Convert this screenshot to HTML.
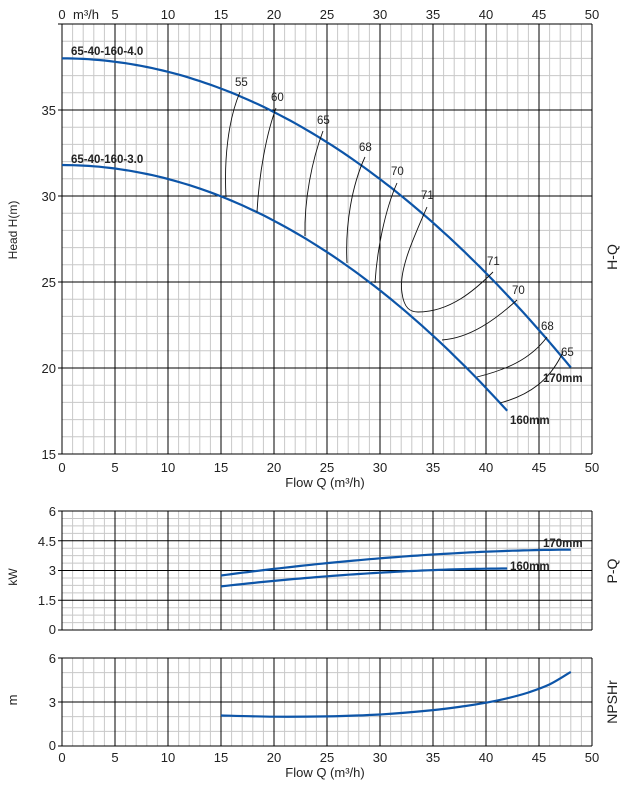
<!DOCTYPE html><html><head><meta charset="utf-8"><style>
body{margin:0;background:#fff}
svg{display:block;font-family:"Liberation Sans",sans-serif}
text{fill:#222;font-size:13px}
.b{font-weight:bold;font-size:11.5px}
</style></head><body>
<svg id="s" width="630" height="788" viewBox="0 0 630 788" xmlns="http://www.w3.org/2000/svg">
<g id="grid"></g>
<g id="curves" fill="none"></g>
<g text-anchor="middle">
<text x="62" y="19">0</text><text x="86" y="19">m³/h</text><text x="115" y="19">5</text><text x="168" y="19">10</text><text x="221" y="19">15</text><text x="274" y="19">20</text><text x="327" y="19">25</text><text x="380" y="19">30</text><text x="433" y="19">35</text><text x="486" y="19">40</text><text x="539" y="19">45</text><text x="592" y="19">50</text>
<text x="62" y="472">0</text><text x="115" y="472">5</text><text x="168" y="472">10</text><text x="221" y="472">15</text><text x="274" y="472">20</text><text x="327" y="472">25</text><text x="380" y="472">30</text><text x="433" y="472">35</text><text x="486" y="472">40</text><text x="539" y="472">45</text><text x="592" y="472">50</text>
<text x="325" y="487">Flow Q (m³/h)</text>
<text x="62" y="762">0</text><text x="115" y="762">5</text><text x="168" y="762">10</text><text x="221" y="762">15</text><text x="274" y="762">20</text><text x="327" y="762">25</text><text x="380" y="762">30</text><text x="433" y="762">35</text><text x="486" y="762">40</text><text x="539" y="762">45</text><text x="592" y="762">50</text>
<text x="325" y="777">Flow Q (m³/h)</text>
</g>
<g text-anchor="end">
<text x="56" y="115">35</text><text x="56" y="201">30</text><text x="56" y="287">25</text><text x="56" y="373">20</text><text x="56" y="459">15</text>
<text x="56" y="516">6</text><text x="56" y="546">4.5</text><text x="56" y="575">3</text><text x="56" y="605">1.5</text><text x="56" y="634">0</text>
<text x="56" y="663">6</text><text x="56" y="707">3</text><text x="56" y="750">0</text>
</g>
<text class="b" x="71" y="55">65-40-160-4.0</text>
<text class="b" x="71" y="163">65-40-160-3.0</text>
<g style="font-size:11.5px">
<text x="235" y="86" style="font-size:11.5px">55</text><text x="271" y="101" style="font-size:11.5px">60</text><text x="317" y="124" style="font-size:11.5px">65</text><text x="359" y="151" style="font-size:11.5px">68</text><text x="391" y="175" style="font-size:11.5px">70</text><text x="421" y="199" style="font-size:11.5px">71</text>
<text x="487" y="265" style="font-size:11.5px">71</text><text x="512" y="294" style="font-size:11.5px">70</text><text x="541" y="330" style="font-size:11.5px">68</text><text x="561" y="356" style="font-size:11.5px">65</text>
</g>
<text class="b" x="543" y="382">170mm</text>
<text class="b" x="510" y="424">160mm</text>
<text class="b" x="543" y="547">170mm</text>
<text class="b" x="510" y="570">160mm</text>
<text transform="translate(17,230) rotate(-90)" text-anchor="middle" style="font-size:12px">Head H(m)</text>
<text transform="translate(17,577) rotate(-90)" text-anchor="middle" style="font-size:12px">kW</text>
<text transform="translate(17,700) rotate(-90)" text-anchor="middle" style="font-size:13px">m</text>
<text transform="translate(617,257) rotate(-90)" text-anchor="middle" style="font-size:14px">H-Q</text>
<text transform="translate(617,571) rotate(-90)" text-anchor="middle" style="font-size:14px">P-Q</text>
<text transform="translate(617,702) rotate(-90)" text-anchor="middle" style="font-size:14px">NPSHr</text>
</svg>
<script>
var NS="http://www.w3.org/2000/svg",g=document.getElementById("grid"),c=document.getElementById("curves");
function L(p,x1,y1,x2,y2,st,w){var e=document.createElementNS(NS,"line");e.setAttribute("x1",x1);e.setAttribute("y1",y1);e.setAttribute("x2",x2);e.setAttribute("y2",y2);e.setAttribute("stroke",st);e.setAttribute("stroke-width",w);p.appendChild(e);}
function P(p,d,st,w){var e=document.createElementNS(NS,"path");e.setAttribute("d",d);e.setAttribute("stroke",st);e.setAttribute("stroke-width",w);e.setAttribute("fill","none");p.appendChild(e);}
function panel(top,bot,ny,majEvery){
 var x0=62,x1=592;
 for(var i=0;i<=50;i++){var x=x0+i*10.6;if(i%5)L(g,x,top,x,bot,"#c8c8c8",1);}
 for(var j=0;j<=ny;j++){var y=top+(bot-top)*j/ny;if(j%majEvery)L(g,x0,y,x1,y,"#c8c8c8",1);}
 for(var i=0;i<=50;i+=5){var x=x0+i*10.6;L(g,x,top,x,bot,"#000",1);}
 for(var j=0;j<=ny;j+=majEvery){var y=top+(bot-top)*j/ny;L(g,x0-4,y,x1,y,"#000",1);}
}
panel(24,454,25,5);
panel(511,630,16,4);
panel(658,746,6,3);
function X(q){return 62+q*10.6}
function curve(f,a,b,ypx){var d="";for(var q=a;q<=b+1e-9;q+=0.5){d+=(d?"L":"M")+X(q).toFixed(1)+","+ypx(f(q)).toFixed(1);}return d;}
var Hy=function(h){return 454-(h-15)*17.2};
P(c,curve(function(q){return 38-0.0078*q*q},0,48,Hy),"#0d55a8",2.2);
P(c,curve(function(q){return 31.8-0.0081*q*q},0,42,Hy),"#0d55a8",2.2);
var Py=function(p){return 630-p*19.83};
P(c,curve(function(q){return 2.75+1.3*(1-Math.pow((48-q)/33,1.8))},15,48,Py),"#0d55a8",2.2);
P(c,curve(function(q){return 2.2+0.9*(1-Math.pow((42-q)/27,1.8))},15,42,Py),"#0d55a8",2.2);
var Ny=function(v){return 746-v*14.67};
var pts=[[15,2.08],[20,2.0],[25,2.02],[30,2.15],[35,2.45],[38,2.72],[40,2.95],[42,3.25],[44,3.65],[46,4.2],[48,5.05]];
var pp=pts.map(function(p){return [X(p[0]),Ny(p[1])]});
var d="M"+pp[0][0]+","+pp[0][1];
for(var i=0;i<pp.length-1;i++){var p0=pp[Math.max(0,i-1)],p1=pp[i],p2=pp[i+1],p3=pp[Math.min(pp.length-1,i+2)];
d+="C"+(p1[0]+(p2[0]-p0[0])/6).toFixed(1)+","+(p1[1]+(p2[1]-p0[1])/6).toFixed(1)+" "+(p2[0]-(p3[0]-p1[0])/6).toFixed(1)+","+(p2[1]-(p3[1]-p1[1])/6).toFixed(1)+" "+p2[0].toFixed(1)+","+p2[1].toFixed(1);}
P(c,d,"#0d55a8",2.2);
var k="#111",w=0.9;
P(c,"M240,92 C228,120 224,160 226,197",k,w);
P(c,"M276,108 C266,135 259,175 257,212",k,w);
P(c,"M323,131 C312,160 304,200 305,236",k,w);
P(c,"M365,157 C352,185 345,225 347,263",k,w);
P(c,"M397,183 C385,210 377,250 375,283",k,w);
P(c,"M427,207 C415,235 398,270 402,293 C404,308 410,312 418,312 C450,312 475,290 493,272",k,w);
P(c,"M517,300 C495,320 470,338 442,340",k,w);
P(c,"M547,337 C530,360 505,370 477,377",k,w);
P(c,"M563,352 C550,380 530,395 500,403",k,w);
</script>
</body></html>
